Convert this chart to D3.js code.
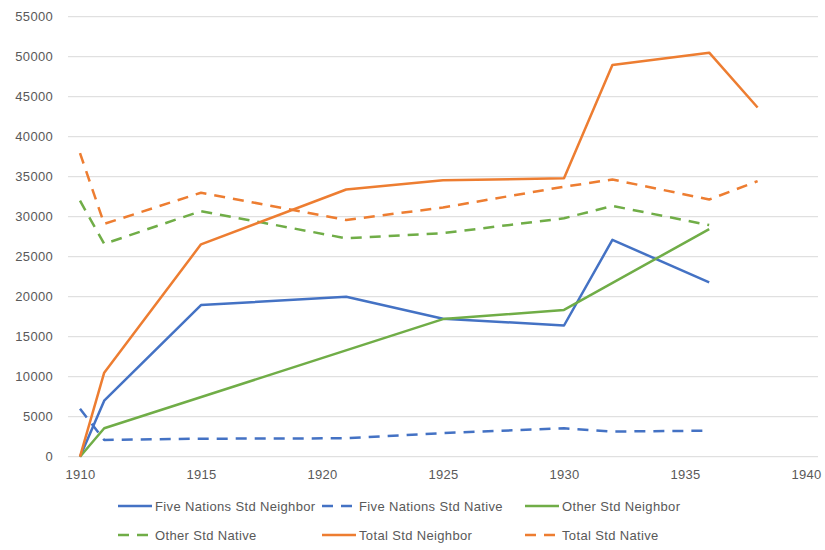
<!DOCTYPE html>
<html>
<head>
<meta charset="utf-8">
<script src="https://cdn.jsdelivr.net/npm/d3@7"></script>
<style>
  html, body { margin: 0; padding: 0; background: #fff; }
  svg { display: block; }
  text { font-family: "Liberation Sans", Arial, sans-serif; fill: #595959; }
</style>
</head>
<body>
<svg id="chart" width="825" height="550"></svg>
<script>
// Student counts by census year
const fiveNationsNeighborYears = [1910, 1911, 1915, 1921, 1925, 1930, 1932, 1936];
const fiveNationsNeighbor      = [0, 7000, 18950, 20000, 17250, 16400, 27100, 21800];

const fiveNationsNativeYears = [1910, 1911, 1915, 1921, 1925, 1930, 1932, 1936];
const fiveNationsNative      = [6000, 2100, 2250, 2300, 2950, 3550, 3150, 3250];

const otherNeighborYears = [1910, 1911, 1925, 1930, 1936];
const otherNeighbor      = [0, 3550, 17200, 18350, 28450];

const otherNativeYears = [1910, 1911, 1915, 1921, 1925, 1930, 1932, 1936];
const otherNative      = [32000, 26600, 30700, 27300, 27950, 29800, 31350, 28950];

const totalNeighborYears = [1910, 1911, 1915, 1921, 1925, 1930, 1932, 1936, 1938];
const totalNeighbor      = [0, 10500, 26550, 33400, 34550, 34800, 48950, 50500, 43650];

const totalNativeYears = [1910, 1911, 1915, 1921, 1925, 1930, 1932, 1936, 1938];
const totalNative      = [37950, 29100, 33000, 29600, 31150, 33750, 34650, 32150, 34450];

const seriesNames = [
  "Five Nations Std Neighbor", "Five Nations Std Native",
  "Other Std Neighbor", "Other Std Native",
  "Total Std Neighbor", "Total Std Native"
];

const xTicks = [1910, 1915, 1920, 1925, 1930, 1935, 1940];
const yTicks = [0, 5000, 10000, 15000, 20000, 25000, 30000, 35000, 40000, 45000, 50000, 55000];

const BLUE = "#4472C4", ORANGE = "#ED7D31", GREEN = "#70AD47";
const DASH = "11,8";

const series = [
  { name: seriesNames[0], xs: fiveNationsNeighborYears, ys: fiveNationsNeighbor, color: BLUE,   dashed: false },
  { name: seriesNames[1], xs: fiveNationsNativeYears,   ys: fiveNationsNative,   color: BLUE,   dashed: true  },
  { name: seriesNames[2], xs: otherNeighborYears,       ys: otherNeighbor,       color: GREEN,  dashed: false },
  { name: seriesNames[3], xs: otherNativeYears,         ys: otherNative,         color: GREEN,  dashed: true  },
  { name: seriesNames[4], xs: totalNeighborYears,       ys: totalNeighbor,       color: ORANGE, dashed: false },
  { name: seriesNames[5], xs: totalNativeYears,         ys: totalNative,         color: ORANGE, dashed: true  }
];

const svg = d3.select("#chart");

const x = d3.scaleLinear().domain([1910, 1940]).range([80, 806]);
const y = d3.scaleLinear().domain([0, 55000]).range([456.7, 16.7]);

// horizontal gridlines (run slightly past the first and last year)
const gridLeft = 68, gridRight = 818;
svg.append("g")
  .selectAll("line")
  .data(yTicks)
  .join("line")
  .attr("x1", gridLeft).attr("x2", gridRight)
  .attr("y1", d => y(d)).attr("y2", d => y(d))
  .attr("stroke", "#d9d9d9")
  .attr("stroke-width", 1);

const styleTicks = g => g.selectAll("text")
  .attr("font-size", 13)
  .attr("letter-spacing", "0.3px")
  .attr("fill", "#595959")
  .attr("font-family", "Liberation Sans, Arial, sans-serif");

// value axis labels
const yAxis = d3.axisLeft(y).tickValues(yTicks).tickSize(0).tickPadding(0).tickFormat(d3.format("d"));
svg.append("g")
  .attr("transform", "translate(53,0)")
  .call(yAxis)
  .call(g => g.select(".domain").remove())
  .call(styleTicks);

// year axis labels
const xAxis = d3.axisBottom(x).tickValues(xTicks).tickSize(0).tickPadding(0).tickFormat(d3.format("d"));
svg.append("g")
  .attr("transform", "translate(0,470)")
  .call(xAxis)
  .call(g => g.select(".domain").remove())
  .call(styleTicks);

// series lines
const line = d3.line().x(d => x(d[0])).y(d => y(d[1]));
svg.append("g")
  .selectAll("path")
  .data(series)
  .join("path")
  .attr("d", s => line(s.xs.map((v, i) => [v, s.ys[i]])))
  .attr("fill", "none")
  .attr("stroke", s => s.color)
  .attr("stroke-width", 2.5)
  .attr("stroke-linejoin", "round")
  .attr("stroke-dasharray", s => s.dashed ? DASH : null);

// legend: two rows of three entries
const legendCols = [118, 322, 525];
const legendRows = [506, 535];
const sampleW = 34;
const legend = svg.append("g")
  .selectAll("g")
  .data(series)
  .join("g")
  .attr("transform", (s, i) => `translate(${legendCols[i % 3]},${legendRows[Math.floor(i / 3)]})`);

legend.append("line")
  .attr("x1", 0).attr("x2", s => s.dashed ? 30 : sampleW)
  .attr("y1", 0).attr("y2", 0)
  .attr("stroke", s => s.color)
  .attr("stroke-width", 2.5)
  .attr("stroke-dasharray", s => s.dashed ? DASH : null);

legend.append("text")
  .attr("x", sampleW + 3)
  .attr("y", 0)
  .attr("dy", "0.35em")
  .attr("font-size", 13)
  .attr("letter-spacing", "0.35px")
  .text(s => s.name);
</script>
</body>
</html>
